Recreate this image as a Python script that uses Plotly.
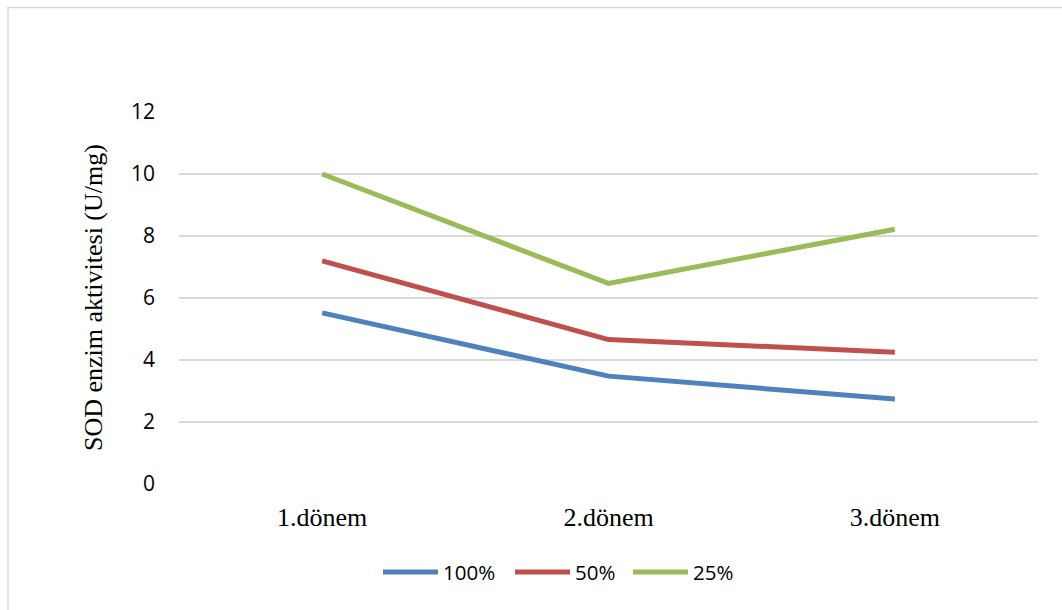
import plotly.graph_objects as go

# Sampling periods and SOD enzyme activity (U/mg) per treatment level
categories = ["1.dönem", "2.dönem", "3.dönem"]
series_names = ["100%", "50%", "25%"]
values_100 = [5.52, 3.48, 2.74]
values_50 = [7.2, 4.66, 4.25]
values_25 = [10.0, 6.47, 8.22]
y_ticks = [0, 2, 4, 6, 8, 10, 12]
colors = ["#4F81BD", "#C0504D", "#9BBB59"]

W, H = 1062, 610
L, R, T, B = 179, 24, 112, 126
PW, PH = W - L - R, H - T - B


def px_x(p):
    return (p - L) / PW


def px_y(p):
    return (H - B - p) / PH


fig = go.Figure()
for name, vals, col in zip(series_names, [values_100, values_50, values_25], colors):
    fig.add_trace(go.Scatter(
        x=categories, y=vals, mode="lines", name=name,
        line=dict(color=col, width=5), showlegend=False,
    ))

# Outer chart frame
fig.add_shape(type="rect", xref="paper", yref="paper",
              x0=px_x(8), x1=px_x(1100), y0=px_y(700), y1=px_y(7.5),
              line=dict(color="#D9D9D9", width=1.5), layer="below")

# Legend keys drawn below the plot
legend_x = [383, 515, 633]
key_len = 55
legend_y = 572
for name, col, lx in zip(series_names, colors, legend_x):
    fig.add_shape(type="line", xref="paper", yref="paper",
                  x0=px_x(lx), x1=px_x(lx + key_len), y0=px_y(legend_y), y1=px_y(legend_y),
                  line=dict(color=col, width=5))
    fig.add_annotation(xref="paper", yref="paper", x=px_x(lx + key_len + 3), y=px_y(legend_y),
                       text=name, showarrow=False, xanchor="left", yanchor="middle",
                       font=dict(family="Open Sans", size=20.5, color="#000000"))

# Y axis title
fig.add_annotation(xref="paper", yref="paper", x=px_x(93), y=0.5,
                   text="SOD enzim aktivitesi (U/mg)", textangle=-90, showarrow=False,
                   xanchor="center", yanchor="middle",
                   font=dict(family="Liberation Serif", size=26, color="#000000"))

fig.update_layout(
    width=W, height=H,
    margin=dict(l=L, r=R, t=T, b=B, pad=0),
    paper_bgcolor="white", plot_bgcolor="white",
    showlegend=False,
    xaxis=dict(
        type="category", range=[-0.5, 2.5], showgrid=False, zeroline=False,
        showline=False, ticks="outside", ticklen=10, tickcolor="rgba(0,0,0,0)",
        tickfont=dict(family="Liberation Serif", size=26, color="#000000"),
    ),
    yaxis=dict(
        range=[0, 12], tickvals=y_ticks, showgrid=True, gridcolor="#D9D9D9", gridwidth=1.5,
        zeroline=False, showline=False, ticks="", ticklabelstandoff=23,
        tickfont=dict(family="Open Sans", size=21, color="#000000"),
    ),
)

fig.write_html("out.html")
